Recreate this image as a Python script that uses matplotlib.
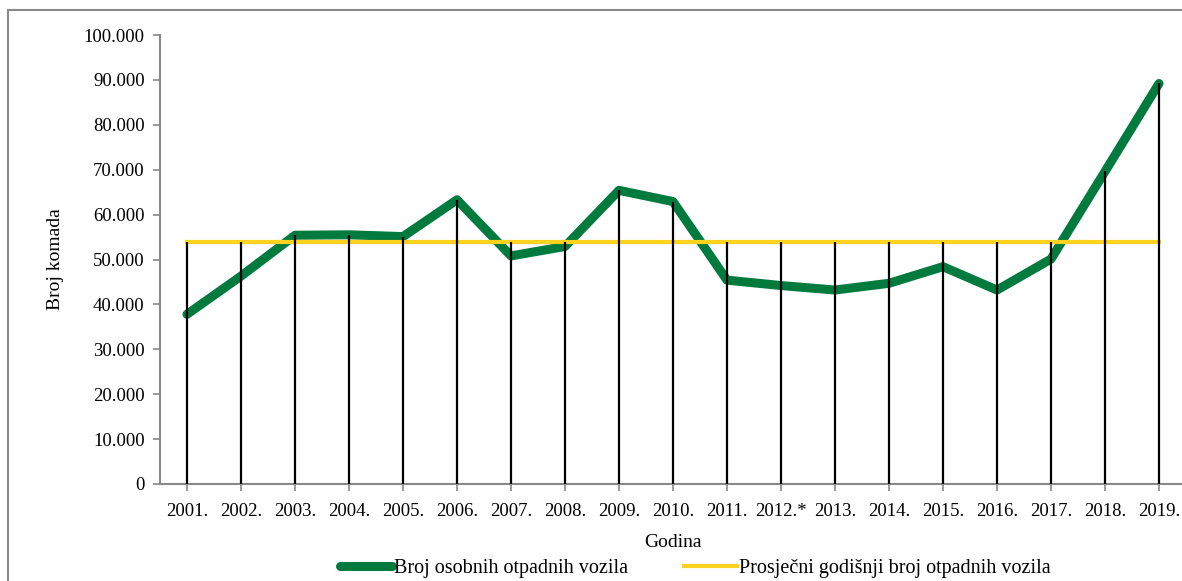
import matplotlib
matplotlib.use('Agg')
import matplotlib.pyplot as plt
import numpy as np
from matplotlib.patches import Rectangle
from matplotlib.ticker import FuncFormatter

years = ['2001.', '2002.', '2003.', '2004.', '2005.', '2006.', '2007.', '2008.', '2009.', '2010.',
         '2011.', '2012.*', '2013.', '2014.', '2015.', '2016.', '2017.', '2018.', '2019.']
vozila = [37800, 46300, 55400, 55500, 55100, 63300, 50800, 52900, 65400, 62900,
          45400, 44200, 43200, 44700, 48400, 43200, 50100, 69600, 89200]
prosjek = 53900

plt.rcParams['font.family'] = ['Liberation Serif', 'DejaVu Serif']

fig = plt.figure(figsize=(11.82, 5.81), dpi=100)
ax = fig.add_axes([160 / 1182, 1 - 484 / 581, 1026 / 1182, 449 / 581])

x = np.arange(len(years))
avg_line = [prosjek] * len(years)

ax.plot(x, vozila, color='#007A3D', lw=6.5, solid_capstyle='round', zorder=2,
        label='Broj osobnih otpadnih vozila')
ax.plot(x, avg_line, color='#FFD21F', lw=3, zorder=2,
        label='Prosječni godišnji broj otpadnih vozila')
ax.vlines(x, 0, np.maximum(vozila, avg_line), color='black', lw=1.6, zorder=3)

ax.set_xlim(-0.5, len(years) - 0.5)
ax.set_ylim(0, 100000)
ax.set_yticks(np.arange(0, 100001, 10000))
ax.yaxis.set_major_formatter(FuncFormatter(lambda v, p: '0' if v == 0 else f'{int(v):,}'.replace(',', '.')))
ax.set_xticks(x)
ax.set_xticklabels(years)

for s in ['top', 'right']:
    ax.spines[s].set_visible(False)
for s in ['left', 'bottom']:
    ax.spines[s].set_color('#898989')
    ax.spines[s].set_linewidth(1.5)
ax.tick_params(axis='both', colors='#898989', labelcolor='black', labelsize=13.5, length=5, width=1.2)
ax.tick_params(axis='x', pad=9)
ax.tick_params(axis='y', pad=6)

ax.set_ylabel('Broj komada', fontsize=14, labelpad=14)
ax.set_xlabel('Godina', fontsize=14, labelpad=10)

leg = ax.legend(loc='center', bbox_to_anchor=(695 / 1182, 1 - 568 / 581), bbox_transform=fig.transFigure,
                ncol=2, frameon=False, fontsize=14.5, handlelength=2.6, handletextpad=0.1, columnspacing=2.8)

fig.patches.append(Rectangle((8 / 1182, -0.1), 1.2, 1 - 10 / 581 + 0.1, transform=fig.transFigure,
                             fill=False, edgecolor='#898989', lw=1.5))

fig.savefig('out.png', dpi=100)
